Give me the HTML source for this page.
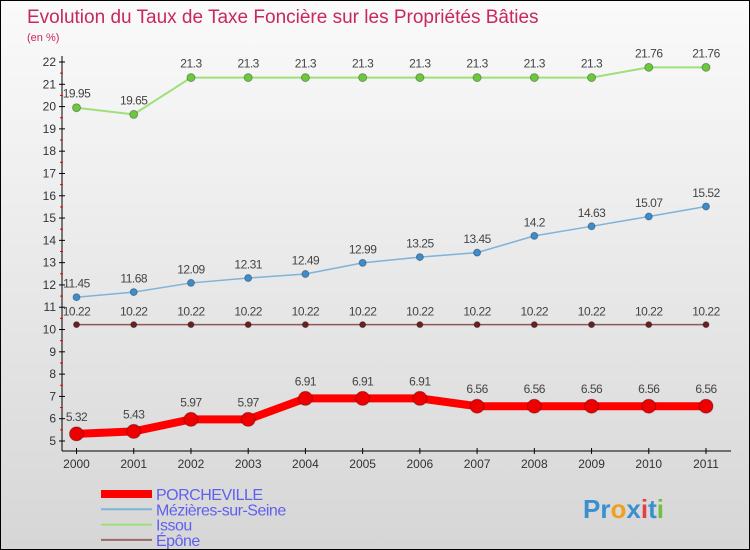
<!DOCTYPE html>
<html><head><meta charset="utf-8"><style>
body{margin:0}
#c{width:750px;height:550px;position:relative;overflow:hidden;box-sizing:border-box;border:1px solid #000;background:linear-gradient(#fafafa,#f0f0f0 30%,#d6d6d6);font-family:"Liberation Sans",sans-serif}
</style></head><body>
<div id="c">
<svg id="s" width="750" height="550" style="position:absolute;left:0;top:0">
<text x="26" y="22" font-size="19" fill="#c8285a">Evolution du Taux de Taxe Foncière sur les Propriétés Bâties</text>
<text x="26" y="40" font-size="11" fill="#c8285a">(en %)</text>
<text x="582" y="517" font-size="26" font-weight="bold"><tspan fill="#3a8fd0">Pr</tspan><tspan fill="#f0a020">o</tspan><tspan fill="#3a8fd0">x</tspan><tspan fill="#e04040">i</tspan><tspan fill="#3a8fd0">t</tspan><tspan fill="#70c040">i</tspan></text>
</svg>
</div>
<script>
const years=["2000","2001","2002","2003","2004","2005","2006","2007","2008","2009","2010","2011"];
const porcheville=[5.32,5.43,5.97,5.97,6.91,6.91,6.91,6.56,6.56,6.56,6.56,6.56];
const mezieres=[11.45,11.68,12.09,12.31,12.49,12.99,13.25,13.45,14.2,14.63,15.07,15.52];
const issou=[19.95,19.65,21.3,21.3,21.3,21.3,21.3,21.3,21.3,21.3,21.76,21.76];
const epone=[10.22,10.22,10.22,10.22,10.22,10.22,10.22,10.22,10.22,10.22,10.22,10.22];
const yTicks=[5,6,7,8,9,10,11,12,13,14,15,16,17,18,19,20,21,22];
const NS="http://www.w3.org/2000/svg",s=document.getElementById('s');
const X=i=>75.5+i*(705-75.5)/11, Y=v=>440-(v-5)*(440-61)/17;
function el(t,a,p){const e=document.createElementNS(NS,t);for(const k in a)e.setAttribute(k,a[k]);(p||s).appendChild(e);return e;}
const ax=el('g',{});
el('line',{x1:61,y1:55,x2:61,y2:450,stroke:'#000'},ax);
el('line',{x1:61,y1:450,x2:730,y2:450,stroke:'#000'},ax);
yTicks.forEach(v=>{const y=Y(v);el('line',{x1:58,y1:y,x2:64,y2:y,stroke:'#000'},ax);
 if(v<22)el('line',{x1:59,y1:y-11.15,x2:62,y2:y-11.15,stroke:'#e00'},ax);
 const t=el('text',{x:55,y:y+4,'text-anchor':'end','font-size':12,fill:'#333'},ax);t.textContent=v;
 });
years.forEach((yr,i)=>{el('line',{x1:X(i),y1:447,x2:X(i),y2:453,stroke:'#000'},ax);
 const t=el('text',{x:X(i),y:467,'text-anchor':'middle','font-size':12,fill:'#333'},ax);t.textContent=yr;
 });
function series(d,col,dot,w,r,name){const g=el('g',{});
 el('polyline',{points:d.map((v,i)=>X(i)+','+Y(v)).join(' '),fill:'none',stroke:col,'stroke-width':w},g);
 d.forEach((v,i)=>{const c=el('circle',{cx:X(i),cy:Y(v),r:r,fill:dot,stroke:'rgba(0,0,0,0.3)','stroke-width':1},g);
 
 const t=el('text',{x:X(i),y:Y(v)-(r+6),'text-anchor':'middle','font-size':12,fill:'#444','letter-spacing':'-0.5'},g);t.textContent=v;
 });}
series(issou,'#9ee07a','#6cc83c',2,4,'issou-series');
series(mezieres,'#7fb3d8','#3d8ccc',1.5,3.5,'mezieres-series');
series(epone,'#8a5a5a','#6a2020',1.5,3,'epone-series');
series(porcheville,'#f00','#e00',8,7,'porcheville-series');
const leg=[["PORCHEVILLE","#f00",8],["Mézières-sur-Seine","#7fb3d8",2],["Issou","#9ee07a",2],["Épône","#9a6868",2]];
leg.forEach((l,i)=>{const y=493+i*15.3;const g=el('g',{});
 el('line',{x1:100,y1:y,x2:151,y2:y,stroke:l[1],'stroke-width':l[2]},g);
 const t=el('text',{x:155,y:y+6,'font-size':16,fill:'#6060ee','letter-spacing':'-0.5'},g);t.textContent=l[0];});
</script>
</body></html>
